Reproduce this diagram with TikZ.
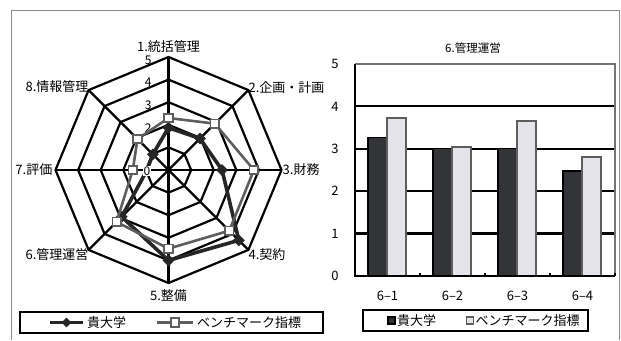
\documentclass[tikz,border=0pt]{standalone}
\usepackage{fontspec}
\setmainfont{Noto Sans CJK JP}
\usetikzlibrary{positioning}
\usetikzlibrary{shapes.geometric}

\definecolor{ourdark}{HTML}{262626}
\definecolor{benchgray}{HTML}{5E5E5E}
\definecolor{bardark}{HTML}{333438}
\definecolor{barlight}{HTML}{E4E4EA}
\definecolor{framegray}{HTML}{8A8A8A}

\tikzset{
    x=1pt, y=1pt,
    outerframe/.style={
        draw=framegray,
        line width=1pt
    },
    web/.style={
        draw=black,
        line width=2.2pt,
        line join=miter
    },
    ours/.style={
        draw=ourdark,
        line width=3.6pt,
        line join=round
    },
    bench/.style={
        draw=benchgray,
        line width=2.6pt,
        line join=round
    },
    oursmark/.style={
        diamond,
        fill=ourdark,
        inner sep=0pt,
        minimum size=12pt
    },
    benchmark/.style={
        rectangle,
        draw=benchgray,
        fill=white,
        line width=1.6pt,
        inner sep=0pt,
        minimum size=8.5pt
    },
    axislabel/.style={
        font=\fontsize{13}{13}\selectfont,
        inner sep=1pt
    },
    ticklabel/.style={
        font=\fontsize{12}{12}\selectfont,
        inner sep=1pt
    },
    barnum/.style={
        font=\fontsize{13}{13}\selectfont,
        inner sep=1pt
    },
    legendbox/.style={
        draw=black,
        line width=2pt
    },
    gridline/.style={
        draw=black,
        line width=2.2pt
    },
    plotborder/.style={
        draw=gray!110,
        line width=2pt
    },
    darkbar/.style={
        draw=black,
        fill=bardark,
        line width=1.4pt
    },
    lightbar/.style={
        draw=benchgray,
        fill=barlight,
        line width=1.8pt
    },
    keysquare/.style={
        rectangle,
        inner sep=0pt,
        minimum size=7pt,
        line width=1.3pt
    }
}

\begin{document}
\begin{tikzpicture}
    \useasboundingbox (0,0) rectangle (621,340);
    \draw[outerframe] (11,0) -- (11,329) -- (619,329) -- (619,0);

    % radar
    \begin{scope}[shift={(168.5,170)}, x=22.6pt, y=22.6pt]
        \foreach \r in {1,...,5}
            \draw[web] (90:\r) \foreach \a in {45,0,-45,-90,-135,180,135} { -- (\a:\r) } -- cycle;
        \foreach \a [count=\i] in {90,45,0,-45,-90,-135,180,135} {
            \coordinate (v\i) at (\a:5);
            \draw[web] (0,0) -- (v\i);
        }

        \node[axislabel, above=3pt of v1] (lab1) {1.統括管理};
        \node[axislabel, right=-1pt of v2, yshift=3pt] (lab2) {2.企画・計画};
        \node[axislabel, right=0pt of v3] (lab3) {3.財務};
        \node[axislabel, right=-1pt of v4, yshift=-5pt] (lab4) {4.契約};
        \node[axislabel, below=5pt of v5] (lab5) {5.整備};
        \node[axislabel, left=-1pt of v6, yshift=-5pt] (lab6) {6.管理運営};
        \node[axislabel, left=2pt of v7] (lab7) {7.評価};
        \node[axislabel, left=-1pt of v8, yshift=4pt] (lab8) {8.情報管理};

        \foreach \k in {2,...,5}
            \node[ticklabel] (rt\k) at (-0.9,\k-0.13) {\k};

        \foreach \v [count=\i] in {1.87,1.97,2.37,4.4,4.0,2.93,0.95,0.98}
            \coordinate (d\i) at ({90-45*(\i-1)}:\v);
        \foreach \v [count=\i] in {2.3,2.9,3.78,3.8,3.48,3.25,1.58,1.94}
            \coordinate (b\i) at ({90-45*(\i-1)}:\v);

        \draw[ours] (d1) -- (d2) -- (d3) -- (d4) -- (d5) -- (d6) -- (d7) -- (d8) -- cycle;
        \foreach \i in {1,...,6,8}
            \node[oursmark] (md\i) at (d\i) {};
        \draw[bench] (b1) -- (b2) -- (b3) -- (b4) -- (b5) -- (b6) -- (b7) -- (b8) -- cycle;
        \foreach \i in {1,...,8}
            \node[benchmark] (mb\i) at (b\i) {};

        \node[ticklabel, fill=white, inner sep=0.5pt] (rt0) at (-0.95,-0.05) {0};
    \end{scope}

    \draw[legendbox] (20,7) rectangle (323,28);
    \coordinate (lol) at (50,17.5);
    \coordinate (lor) at (83,17.5);
    \draw[ours, line width=2.6pt] (lol) -- (lor);
    \node[oursmark, minimum size=10pt] (lom) at (66.5,17.5) {};
    \node[axislabel, anchor=west] (lot) at (86,17.5) {貴大学};
    \coordinate (lbl) at (157,17.5);
    \coordinate (lbr) at (193,17.5);
    \draw[bench, line width=2.2pt] (lbl) -- (lbr);
    \node[benchmark] (lbm) at (175,17.5) {};
    \node[axislabel, anchor=west] (lbt) at (196,17.5) {ベンチマーク指標};

    % bars
    \begin{scope}[shift={(355,64)}, y=42.4pt]
        \foreach \k in {1,...,4}
            \draw[gridline] (0,\k) -- (260,\k);
        \draw[plotborder] (0,5) -- (260,5) -- (260,0);
        \foreach \o/\l [count=\i] in {3.27/3.72, 3.0/3.05, 3.0/3.66, 2.48/2.8} {
            \draw[darkbar] ({65*(\i-1)+13},0) rectangle ({65*(\i-1)+32},\o);
            \draw[lightbar] ({65*(\i-1)+32},0) rectangle ({65*(\i-1)+51},\l);
            \node[barnum] (cat\i) at ({65*(\i-1)+32.5},-0.47) {6–\i};
        }
        \draw[gridline] (0,5) -- (0,0) -- (260,0);
        \foreach \t in {65,130,195,260}
            \draw[line width=1.6pt] (\t,0) -- (\t,0.08);
        \foreach \k in {0,...,5}
            \node[barnum] (yl\k) at (-20,\k) {\k};
        \node[font=\fontsize{11.5}{11.5}\selectfont] (bartitle) at (118,5.38) {6.管理運営};
    \end{scope}

    \draw[legendbox] (363,9) rectangle (588,30);
    \node[keysquare, draw=black, fill=bardark] (rkd) at (391.5,19.5) {};
    \node[axislabel, anchor=west] (rkdt) at (396,19.5) {貴大学};
    \node[keysquare, draw=benchgray, fill=barlight] (rkl) at (470,19.5) {};
    \node[axislabel, anchor=west] (rklt) at (474.5,19.5) {ベンチマーク指標};
\end{tikzpicture}
\end{document}
